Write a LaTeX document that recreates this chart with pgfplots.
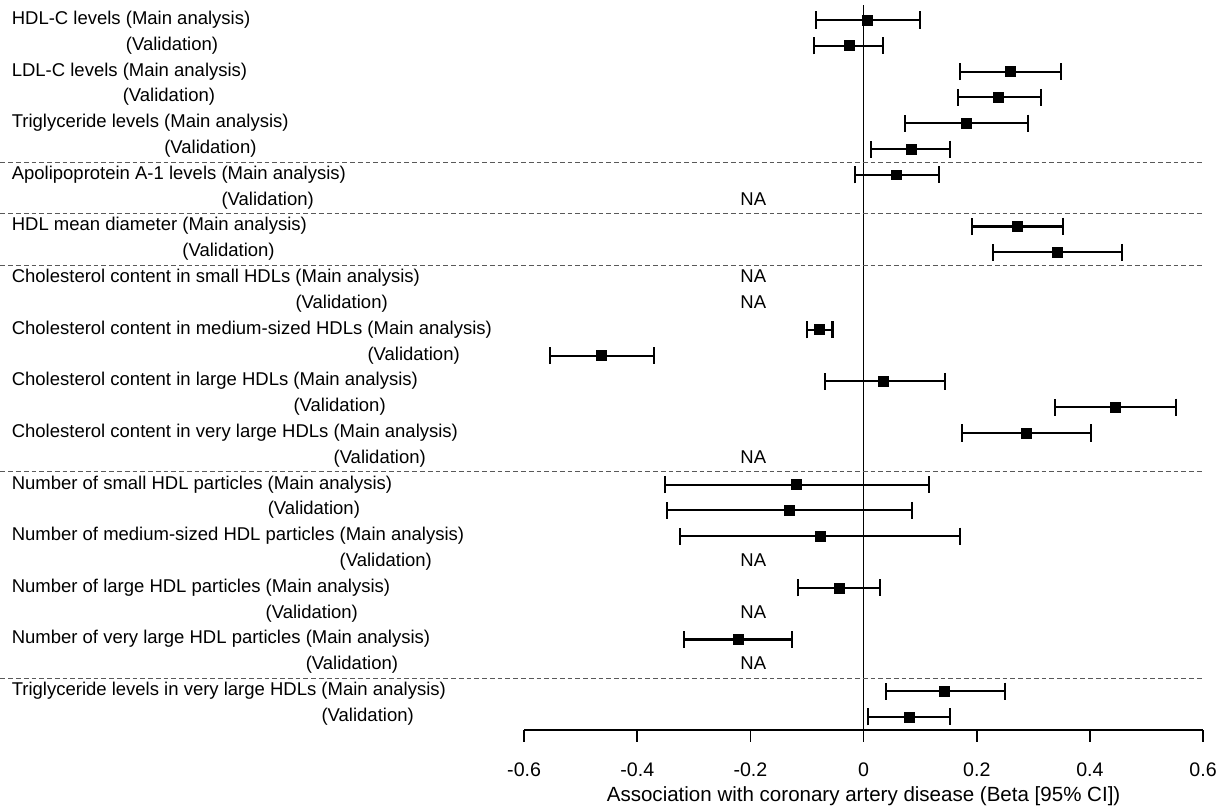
\documentclass[border=0pt]{standalone}
\usepackage{fontspec}
\setmainfont{Liberation Sans}
\usepackage{pgfplots}
\usepackage{pgfplotstable}
\pgfplotsset{compat=1.18}

\pgfplotstableread{
row est lo hi
1 0.007 -0.085 0.099
2 -0.026 -0.087 0.035
3 0.260 0.170 0.349
4 0.239 0.166 0.314
5 0.182 0.073 0.290
6 0.084 0.013 0.153
7 0.058 -0.016 0.133
9 0.272 0.192 0.352
10 0.343 0.228 0.456
13 -0.078 -0.100 -0.055
14 -0.463 -0.555 -0.370
15 0.035 -0.069 0.143
16 0.445 0.339 0.552
17 0.288 0.174 0.402
19 -0.118 -0.351 0.115
20 -0.131 -0.348 0.086
21 -0.077 -0.324 0.171
23 -0.043 -0.116 0.029
25 -0.222 -0.318 -0.126
27 0.143 0.039 0.250
28 0.080 0.008 0.152
}\forest

\newcommand{\lab}[2]{\node[anchor=west,inner sep=0pt] at (axis cs:-1.5062,#1) {\strut #2};}
\newcommand{\val}[2]{\node[anchor=west,inner sep=0pt] at (axis cs:-1.5062,#1) {\strut\phantom{#2}(Validation)};}
\newcommand{\na}[1]{\node[inner sep=0pt] at (axis cs:-0.195,#1) {\strut NA};}
\newcommand{\sep}[1]{\draw[gray!70!black, line width=0.5pt, dash pattern=on 2.6pt off 1.6pt] (axis cs:-1.5256,#1) -- (axis cs:0.601,#1);}

\begin{document}
\begin{tikzpicture}
\begin{axis}[
  scale only axis,
  width=367.03pt, height=394.6pt,
  xmin=-0.6, xmax=0.6,
  ymin=0.2253, ymax=28.503,
  y dir=reverse,
  axis x line*=bottom,
  axis y line=none,
  clip=false,
  xtick={-0.6,-0.4,-0.2,0,0.2,0.4,0.6},
  xticklabels={-0.6,-0.4,-0.2,0,0.2,0.4,0.6},
  tick align=outside,
  major tick length=6.5pt,
  tick style={black, line width=0.9pt},
  axis line style={black, line width=0.9pt},
  ytick=\empty,
  font=\fontsize{10}{12}\selectfont,
  xticklabel style={font=\fontsize{10.6}{12}\selectfont, yshift=-7.5pt},
  /pgf/number format/assume math mode=true,
  xlabel={Association with coronary artery disease (Beta [95\% CI])},
  xlabel style={font=\fontsize{11.1}{13}\selectfont, at={(axis description cs:0.5,0)}, anchor=north, yshift=-27pt},
]
% bounding area
\path (axis cs:-1.5256,0.2253) rectangle (axis cs:0.6405,31.37);

% zero reference line
\addplot[black, line width=0.55pt, forget plot] coordinates {(0,0.42) (0,28.503)};

% separators
\sep{6.5}\sep{8.5}\sep{10.5}\sep{18.5}\sep{26.5}

% estimates with CI
\addplot[only marks, mark=square*, mark size=2.7pt, black,
  error bars/.cd, x dir=both, x explicit,
  error bar style={black, line width=1.1pt},
  error mark=|, error mark options={black, line width=1.1pt, mark size=4.6pt, rotate=0}]
  table[x=est, y=row,
        x error plus expr=\thisrow{hi}-\thisrow{est},
        x error minus expr=\thisrow{est}-\thisrow{lo}] {\forest};

% labels
\lab{1}{HDL-C levels (Main analysis)}
\val{2}{HDL-C levels }
\lab{3}{LDL-C levels (Main analysis)}
\val{4}{LDL-C levels }
\lab{5}{Triglyceride levels (Main analysis)}
\val{6}{Triglyceride levels }
\lab{7}{Apolipoprotein A-1 levels (Main analysis)}
\val{8}{Apolipoprotein A-1 levels }
\lab{9}{HDL mean diameter (Main analysis)}
\val{10}{HDL mean diameter }
\lab{11}{Cholesterol content in small HDLs (Main analysis)}
\val{12}{Cholesterol content in small HDLs }
\lab{13}{Cholesterol content in medium-sized HDLs (Main analysis)}
\val{14}{Cholesterol content in medium-sized HDLs }
\lab{15}{Cholesterol content in large HDLs (Main analysis)}
\val{16}{Cholesterol content in large HDLs }
\lab{17}{Cholesterol content in very large HDLs (Main analysis)}
\val{18}{Cholesterol content in very large HDLs }
\lab{19}{Number of small HDL particles (Main analysis)}
\val{20}{Number of small HDL particles }
\lab{21}{Number of medium-sized HDL particles (Main analysis)}
\val{22}{Number of medium-sized HDL particles }
\lab{23}{Number of large HDL particles (Main analysis)}
\val{24}{Number of large HDL particles }
\lab{25}{Number of very large HDL particles (Main analysis)}
\val{26}{Number of very large HDL particles }
\lab{27}{Triglyceride levels in very large HDLs (Main analysis)}
\val{28}{Triglyceride levels in very large HDLs }

% NA entries
\na{8}\na{11}\na{12}\na{18}\na{22}\na{24}\na{26}
\end{axis}
\end{tikzpicture}
\end{document}
